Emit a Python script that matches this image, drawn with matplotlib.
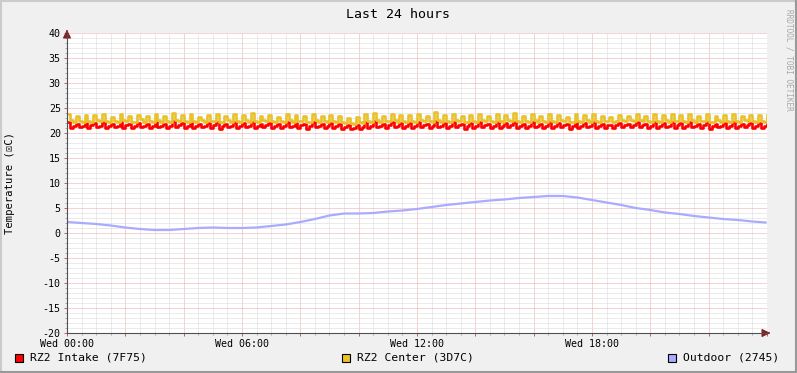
import numpy as np
import matplotlib
matplotlib.use("Agg")
import matplotlib.pyplot as plt
from matplotlib.patches import Rectangle
from matplotlib.lines import Line2D

plt.rcParams["axes.unicode_minus"] = False

# hours since Wed 00:00, 6 minute steps for the two rack sensors
step_hours = 0.1

center = [
    23.8,22.6,22.3, 23.4,22.5,22.2, 23.7,22.4,22.3, 23.6,22.7,22.4, 23.9,22.5,22.2, 23.3,22.4,22.3, 23.8,22.6,22.4, 23.5,22.3,22.2, 23.7,22.8,22.3, 23.4,22.5,22.3,
    23.9,22.6,22.2, 23.5,22.4,22.3, 24.1,22.7,22.4, 23.6,22.5,22.2, 23.8,22.4,22.3, 23.3,22.6,22.2, 23.7,22.5,22.4, 23.9,22.3,22.2, 23.4,22.6,22.3, 23.8,22.5,22.2,
    23.6,22.7,22.3, 24.0,22.4,22.2, 23.5,22.6,22.4, 23.7,22.5,22.3, 23.3,22.4,22.2, 23.9,22.6,22.3, 23.6,22.5,22.4, 23.4,22.3,22.2, 23.8,22.7,22.3, 23.5,22.4,22.2,
    23.7,22.5,22.3, 23.4,22.3,22.0, 23.1,22.0,21.9, 23.3,22.2,22.1, 23.8,22.4,22.2, 24.1,22.6,22.3, 23.5,22.5,22.4, 23.9,22.6,22.3, 23.6,22.4,22.2, 23.7,22.5,22.3,
    23.9,22.6,22.4, 23.5,22.4,22.2, 24.2,22.7,22.3, 23.6,22.5,22.2, 23.8,22.6,22.4, 23.4,22.3,22.2, 23.7,22.5,22.3, 23.9,22.6,22.4, 23.5,22.4,22.2, 23.8,22.5,22.3,
    23.6,22.7,22.4, 24.0,22.5,22.2, 23.5,22.4,22.3, 23.9,22.6,22.3, 23.4,22.5,22.2, 23.8,22.4,22.3, 23.7,22.6,22.4, 23.3,22.3,22.2, 23.9,22.5,22.3, 23.6,22.6,22.2,
    23.8,22.4,22.3, 23.5,22.5,22.4, 23.2,22.3,22.5, 23.6,22.6,22.4, 23.4,22.7,22.5, 23.9,22.6,22.4, 23.5,22.5,22.3, 23.8,22.4,22.2, 23.7,22.6,22.3, 23.9,22.5,22.4,
    23.6,22.4,22.2, 23.8,22.6,22.3, 23.5,22.5,22.4, 23.9,22.3,22.2, 23.4,22.6,22.3, 23.7,22.5,22.2, 23.8,22.4,22.3, 23.5,22.6,22.4, 23.6,22.5,22.2, 23.7,22.4,22.3,
    23.6,
]

intake = [
    22.2,21.1,21.5, 21.9,21.2,21.4, 22.1,21.0,21.6, 22.0,21.3,21.5, 22.3,21.1,21.4, 21.8,21.2,21.5, 22.2,21.0,21.6, 21.9,21.1,21.4, 22.1,21.3,21.5, 21.9,21.0,21.5,
    22.3,21.2,21.4, 21.9,21.0,21.5, 22.4,21.3,21.6, 22.0,21.1,21.4, 22.2,21.0,21.5, 21.8,21.2,21.4, 22.1,21.1,21.6, 22.3,20.9,21.4, 21.9,21.2,21.5, 22.2,21.1,21.4,
    22.0,21.3,21.5, 22.3,21.0,21.4, 21.9,21.2,21.6, 22.1,21.1,21.5, 21.8,21.0,21.4, 22.3,21.2,21.5, 22.0,21.1,21.6, 21.9,20.9,21.4, 22.2,21.3,21.5, 21.9,21.0,21.4,
    22.1,21.1,21.5, 21.8,20.9,21.2, 21.6,20.8,21.1, 21.7,20.9,21.3, 22.2,21.0,21.4, 22.4,21.2,21.5, 21.9,21.1,21.6, 22.3,21.2,21.5, 22.0,21.0,21.4, 22.1,21.1,21.5,
    22.3,21.2,21.6, 21.9,21.0,21.4, 22.4,21.3,21.5, 22.0,21.1,21.4, 22.2,21.2,21.6, 21.8,20.9,21.4, 22.1,21.1,21.5, 22.3,21.2,21.6, 21.9,21.0,21.4, 22.2,21.1,21.5,
    22.0,21.3,21.6, 22.3,21.1,21.4, 21.9,21.0,21.5, 22.3,21.2,21.5, 21.8,21.1,21.4, 22.2,21.0,21.5, 22.1,21.2,21.6, 21.8,20.9,21.4, 22.3,21.1,21.5, 22.0,21.2,21.4,
    22.2,21.0,21.5, 21.9,21.1,21.6, 21.7,21.0,21.7, 22.0,21.2,21.6, 21.9,21.3,21.7, 22.3,21.2,21.6, 21.9,21.1,21.5, 22.2,21.0,21.4, 22.1,21.2,21.5, 22.3,21.1,21.6,
    22.0,21.0,21.4, 22.2,21.2,21.5, 21.9,21.1,21.6, 22.3,20.9,21.4, 21.8,21.2,21.5, 22.1,21.1,21.4, 22.2,21.0,21.5, 21.9,21.2,21.6, 22.0,21.1,21.4, 22.1,21.0,21.5,
    22.0,
]

# outdoor sensor, half hourly readings
outdoor_hours = [0, 0.5, 1, 1.5, 2, 2.5, 3, 3.5, 4, 4.5, 5, 5.5, 6, 6.5, 7, 7.5, 8, 8.5,
                 9, 9.5, 10, 10.5, 11, 11.5, 12, 12.5, 13, 13.5, 14, 14.5, 15, 15.5,
                 16, 16.5, 17, 17.5, 18, 18.5, 19, 19.5, 20, 20.5, 21, 21.5, 22, 22.5,
                 23, 23.5, 23.95]
outdoor = [2.2, 2.0, 1.8, 1.5, 1.1, 0.8, 0.6, 0.6, 0.8, 1.0, 1.1, 1.0, 1.0, 1.1, 1.4, 1.7, 2.2, 2.8,
           3.5, 3.9, 3.9, 4.0, 4.3, 4.5, 4.8, 5.2, 5.6, 5.9, 6.2, 6.5, 6.7, 7.0,
           7.2, 7.4, 7.4, 7.1, 6.6, 6.1, 5.6, 5.0, 4.6, 4.1, 3.8, 3.4, 3.1, 2.8,
           2.6, 2.3, 2.1]

legend_labels = ["RZ2 Intake (7F75)", "RZ2 Center (3D7C)", "Outdoor (2745)"]
colors = ["#FF0000", "#E9C12A", "#AAAAFF"]
xtick_labels = ["Wed 00:00", "Wed 06:00", "Wed 12:00", "Wed 18:00"]

W, H = 797, 373
fig = plt.figure(figsize=(W / 100, H / 100), dpi=100, facecolor="#F0F0F0")
mono = ["DejaVu Sans Mono", "DejaVu Sans"]

# frame shading
fig.add_artist(Line2D([1 / W, 1 / W], [0, 1], transform=fig.transFigure, color="#CBCBCB", lw=1.5))
fig.add_artist(Line2D([0, 1], [1 - 1 / H, 1 - 1 / H], transform=fig.transFigure, color="#CBCBCB", lw=1.5))
fig.add_artist(Line2D([1 - 1 / W, 1 - 1 / W], [0, 1], transform=fig.transFigure, color="#999999", lw=1.5))
fig.add_artist(Line2D([0, 1], [1 / H, 1 / H], transform=fig.transFigure, color="#999999", lw=1.5))

x0, x1, ytop, ybot = 67, 767, 33, 333
ax = fig.add_axes([x0 / W, 1 - ybot / H, (x1 - x0) / W, (ybot - ytop) / H])
ax.set_facecolor("white")

t = np.arange(len(center)) * step_hours
ax.plot(t, intake, drawstyle="steps-post", color=colors[0], lw=1.9, zorder=3)
ax.plot(t, center, drawstyle="steps-post", color=colors[1], lw=1.9, zorder=3)
ax.plot(outdoor_hours, outdoor, color=colors[2], lw=1.6, zorder=3)

ax.set_xlim(0, 24)
ax.set_ylim(-20, 40)

ax.set_xticks(np.arange(0, 25, 2))
ax.set_xticklabels([xtick_labels[i // 3] if i % 3 == 0 and i < 12 else "" for i in range(13)])
ax.set_xticks(np.arange(0, 24.01, 0.5), minor=True)
ax.set_yticks(np.arange(-20, 41, 5))
ax.set_yticks(np.arange(-20, 41, 1), minor=True)

ax.grid(which="minor", color="#D8D8D8", lw=0.72, ls=(0, (1, 1)), zorder=1)
ax.grid(which="major", color="#E8A8A8", lw=0.72, ls=(0, (1, 1)), zorder=2)

for s in ["top", "right"]:
    ax.spines[s].set_visible(False)
for s in ["left", "bottom"]:
    ax.spines[s].set_color("#505050")
    ax.spines[s].set_linewidth(0.8)
    ax.spines[s].set_zorder(4)

ax.tick_params(which="major", length=2.5, width=0.7, color="#C06060", pad=2,
               labelsize=7.2, labelcolor="black")
ax.tick_params(which="minor", length=1.5, width=0.6, color="#A0A0A0")
for lab in ax.get_xticklabels() + ax.get_yticklabels():
    lab.set_family(mono)

# arrows at axis ends
ax.annotate("", xy=(x1 + 6 - x0, 0), xytext=(x1 - 1 - x0, 0), xycoords="axes pixels",
            textcoords="axes pixels",
            arrowprops=dict(arrowstyle="-|>,head_length=0.5,head_width=0.25", color="#802020", lw=0.8))
ax.annotate("", xy=(0, ybot - ytop + 6), xytext=(0, ybot - ytop - 1), xycoords="axes pixels",
            textcoords="axes pixels",
            arrowprops=dict(arrowstyle="-|>,head_length=0.5,head_width=0.25", color="#802020", lw=0.8))

fig.text(398 / W, 1 - 14 / H, "Last 24 hours", ha="center", va="center", fontsize=9.5, family=mono)
fig.text(10 / W, 1 - 183 / H, "Temperature (\u2612C)", rotation=90, ha="center", va="center",
         fontsize=7.6, family=mono)
fig.text(789 / W, 1 - 60 / H, "RRDTOOL / TOBI OETIKER", rotation=270, ha="center", va="center",
         fontsize=5.6, family=mono, color="#A8A8A8")

legend_x = [15, 342, 668]
for lx, lab, c in zip(legend_x, legend_labels, colors):
    fig.add_artist(Rectangle((lx / W, 1 - 362 / H), 8 / W, 8 / H, transform=fig.transFigure,
                             facecolor=c, edgecolor="black", lw=0.8))
    fig.text((lx + 15) / W, 1 - 358 / H, lab, ha="left", va="center", fontsize=8.2, family=mono)

fig.savefig("out.png", dpi=100, facecolor=fig.get_facecolor())
